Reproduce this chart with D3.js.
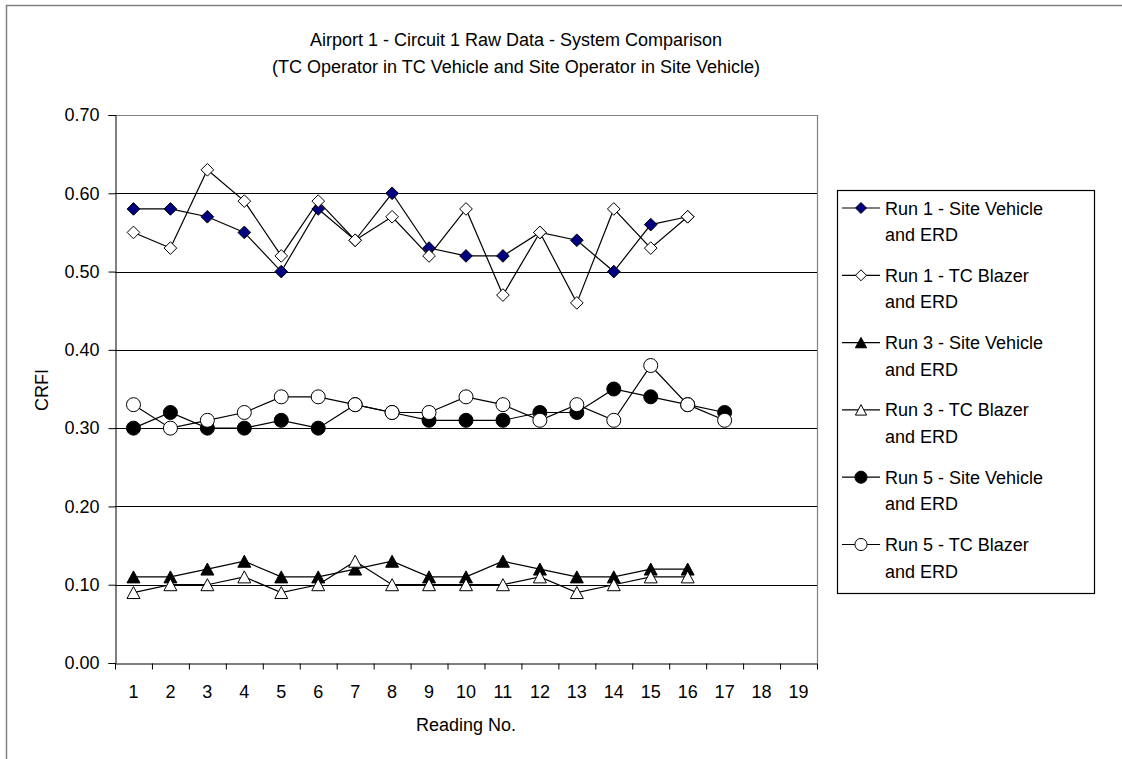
<!DOCTYPE html>
<html>
<head>
<meta charset="utf-8">
<script src="https://cdn.jsdelivr.net/npm/d3@7"></script>
<style>
  html, body { margin: 0; padding: 0; background: #fff; }
  svg { display: block; font-family: "Liberation Sans", Arial, sans-serif; }
</style>
</head>
<body>
<svg id="chart" width="1122" height="759"></svg>
<script>
// Reading numbers along the horizontal axis
const readings = ["1","2","3","4","5","6","7","8","9","10","11","12","13","14","15","16","17","18","19"];

// CRFI values per run
const run1Site = [0.58,0.58,0.57,0.55,0.50,0.58,0.54,0.60,0.53,0.52,0.52,0.55,0.54,0.50,0.56,0.57];
const run1TC   = [0.55,0.53,0.63,0.59,0.52,0.59,0.54,0.57,0.52,0.58,0.47,0.55,0.46,0.58,0.53,0.57];
const run3Site = [0.11,0.11,0.12,0.13,0.11,0.11,0.12,0.13,0.11,0.11,0.13,0.12,0.11,0.11,0.12,0.12];
const run3TC   = [0.09,0.10,0.10,0.11,0.09,0.10,0.13,0.10,0.10,0.10,0.10,0.11,0.09,0.10,0.11,0.11];
const run5Site = [0.30,0.32,0.30,0.30,0.31,0.30,0.33,0.32,0.31,0.31,0.31,0.32,0.32,0.35,0.34,0.33,0.32];
const run5TC   = [0.33,0.30,0.31,0.32,0.34,0.34,0.33,0.32,0.32,0.34,0.33,0.31,0.33,0.31,0.38,0.33,0.31];

const seriesNames = [
  ["Run 1 - Site Vehicle", "and ERD"],
  ["Run 1 - TC Blazer", "and ERD"],
  ["Run 3 - Site Vehicle", "and ERD"],
  ["Run 3 - TC Blazer", "and ERD"],
  ["Run 5 - Site Vehicle", "and ERD"],
  ["Run 5 - TC Blazer", "and ERD"]
];
const seriesValues = [run1Site, run1TC, run3Site, run3TC, run5Site, run5TC];
const yTicks = [0, 0.1, 0.2, 0.3, 0.4, 0.5, 0.6, 0.7];

const titleLines = [
  "Airport 1 - Circuit 1 Raw Data - System Comparison",
  "(TC Operator in TC Vehicle and Site Operator in Site Vehicle)"
];

// Marker shapes: Excel-style square diamond and box-centred triangle
const diamond = { draw(ctx, size) { const r = Math.sqrt(size) / 2 * Math.SQRT2;
  ctx.moveTo(0, -r); ctx.lineTo(r, 0); ctx.lineTo(0, r); ctx.lineTo(-r, 0); ctx.closePath(); } };
const triangle = { draw(ctx, size) { const h = Math.sqrt(size) / 2;
  ctx.moveTo(0, -h); ctx.lineTo(h * 1.08, h); ctx.lineTo(-h * 1.08, h); ctx.closePath(); } };

const styles = [
  { type: diamond,  size: 80,  fill: "#000080" },
  { type: diamond,  size: 80,  fill: "#ffffff" },
  { type: triangle, size: 144, fill: "#000000" },
  { type: triangle, size: 144, fill: "#ffffff" },
  { type: d3.symbolCircle, size: Math.PI * 49, fill: "#000000" },
  { type: d3.symbolCircle, size: Math.PI * 49, fill: "#ffffff" }
];

const svg = d3.select("#chart");
const FONT = 18;

// Outer chart frame
svg.append("rect")
  .attr("x", 6.5).attr("y", 5.5).attr("width", 1300).attr("height", 900)
  .attr("fill", "none").attr("stroke", "#808080").attr("stroke-width", 1.5);

const plot = { left: 115, right: 817, top: 115, bottom: 663 };

const x = d3.scaleBand().domain(readings).range([plot.left, plot.right]).padding(0);
const xEdge = d3.scaleLinear().domain([0, readings.length]).range([plot.left, plot.right]);
const y = d3.scaleLinear().domain([0, 0.7]).range([plot.bottom, plot.top]);

// Plot frame (top and right)
svg.append("path")
  .attr("d", `M${plot.left},${plot.top + 0.5}H${plot.right + 0.5}V${plot.bottom}`)
  .attr("fill", "none").attr("stroke", "#808080").attr("stroke-width", 1.2);

// Horizontal gridlines
svg.append("g").selectAll("line")
  .data(yTicks.filter(d => d > 0 && d < 0.7))
  .join("line")
  .attr("x1", plot.left).attr("x2", plot.right)
  .attr("y1", d => Math.round(y(d)) + 0.5).attr("y2", d => Math.round(y(d)) + 0.5)
  .attr("stroke", "#000").attr("stroke-width", 1);

// Y axis
const yAxis = svg.append("g")
  .attr("transform", `translate(${plot.left + 0.5},0)`)
  .call(d3.axisLeft(y).tickValues(yTicks).tickFormat(d3.format(".2f")).tickSize(7).tickPadding(9));
yAxis.select(".domain").attr("stroke", "#000");
yAxis.selectAll(".tick line").attr("stroke", "#000");
yAxis.selectAll("text").attr("font-size", FONT).attr("fill", "#000")
  .attr("font-family", "'Liberation Sans', Arial, sans-serif");

// X axis: tick marks at category boundaries
const xTicksAxis = svg.append("g")
  .attr("transform", `translate(0,${plot.bottom + 0.5})`)
  .call(d3.axisBottom(xEdge).ticks(readings.length).tickValues(d3.range(readings.length + 1))
    .tickFormat("").tickSize(6).tickSizeOuter(0));
xTicksAxis.select(".domain").attr("stroke", "#000");
xTicksAxis.selectAll(".tick line").attr("stroke", "#000");

// X axis: labels centred on categories
const xLabels = svg.append("g")
  .attr("transform", `translate(0,${plot.bottom})`)
  .call(d3.axisBottom(x).tickSize(0).tickPadding(22));
xLabels.select(".domain").remove();
xLabels.selectAll("text").attr("font-size", FONT).attr("fill", "#000")
  .attr("font-family", "'Liberation Sans', Arial, sans-serif");

// Series lines and markers
const line = d3.line()
  .x((d, i) => x(readings[i]) + x.bandwidth() / 2)
  .y(d => y(d));

seriesValues.forEach((vals, si) => {
  const g = svg.append("g");
  g.append("path").datum(vals)
    .attr("d", line).attr("fill", "none").attr("stroke", "#000").attr("stroke-width", 1.2);
  g.selectAll("path.m").data(vals).join("path").attr("class", "m")
    .attr("transform", (d, i) => `translate(${x(readings[i]) + x.bandwidth() / 2},${y(d)})`)
    .attr("d", d3.symbol(styles[si].type, styles[si].size))
    .attr("fill", styles[si].fill).attr("stroke", "#000").attr("stroke-width", 1);
});

// Titles
svg.append("g").selectAll("text").data(titleLines).join("text")
  .attr("x", 516).attr("y", (d, i) => 46 + i * 27)
  .attr("text-anchor", "middle").attr("font-size", FONT).attr("fill", "#000")
  .text(d => d);

svg.append("text")
  .attr("transform", `translate(48,390) rotate(-90)`)
  .attr("text-anchor", "middle").attr("font-size", FONT).attr("fill", "#000")
  .text("CRFI");

svg.append("text")
  .attr("x", (plot.left + plot.right) / 2).attr("y", 731)
  .attr("text-anchor", "middle").attr("font-size", FONT).attr("fill", "#000")
  .text("Reading No.");

// Legend
const legend = svg.append("g");
legend.append("rect")
  .attr("x", 837.5).attr("y", 190.5).attr("width", 257).attr("height", 403)
  .attr("fill", "#fff").attr("stroke", "#000").attr("stroke-width", 1.2);

seriesNames.forEach((lines, i) => {
  const cy = 208 + i * 67.3;
  const e = legend.append("g");
  e.append("line").attr("x1", 842).attr("x2", 880).attr("y1", cy).attr("y2", cy)
    .attr("stroke", "#000").attr("stroke-width", 1.2);
  e.append("path").attr("transform", `translate(861,${cy})`)
    .attr("d", d3.symbol(styles[i].type, styles[i].size * 0.75))
    .attr("fill", styles[i].fill).attr("stroke", "#000").attr("stroke-width", 1);
  e.selectAll("text").data(lines).join("text")
    .attr("x", 885).attr("y", (d, j) => cy + 6.5 + j * 26.5)
    .attr("font-size", FONT).attr("fill", "#000")
    .text(d => d);
});
</script>
</body>
</html>
